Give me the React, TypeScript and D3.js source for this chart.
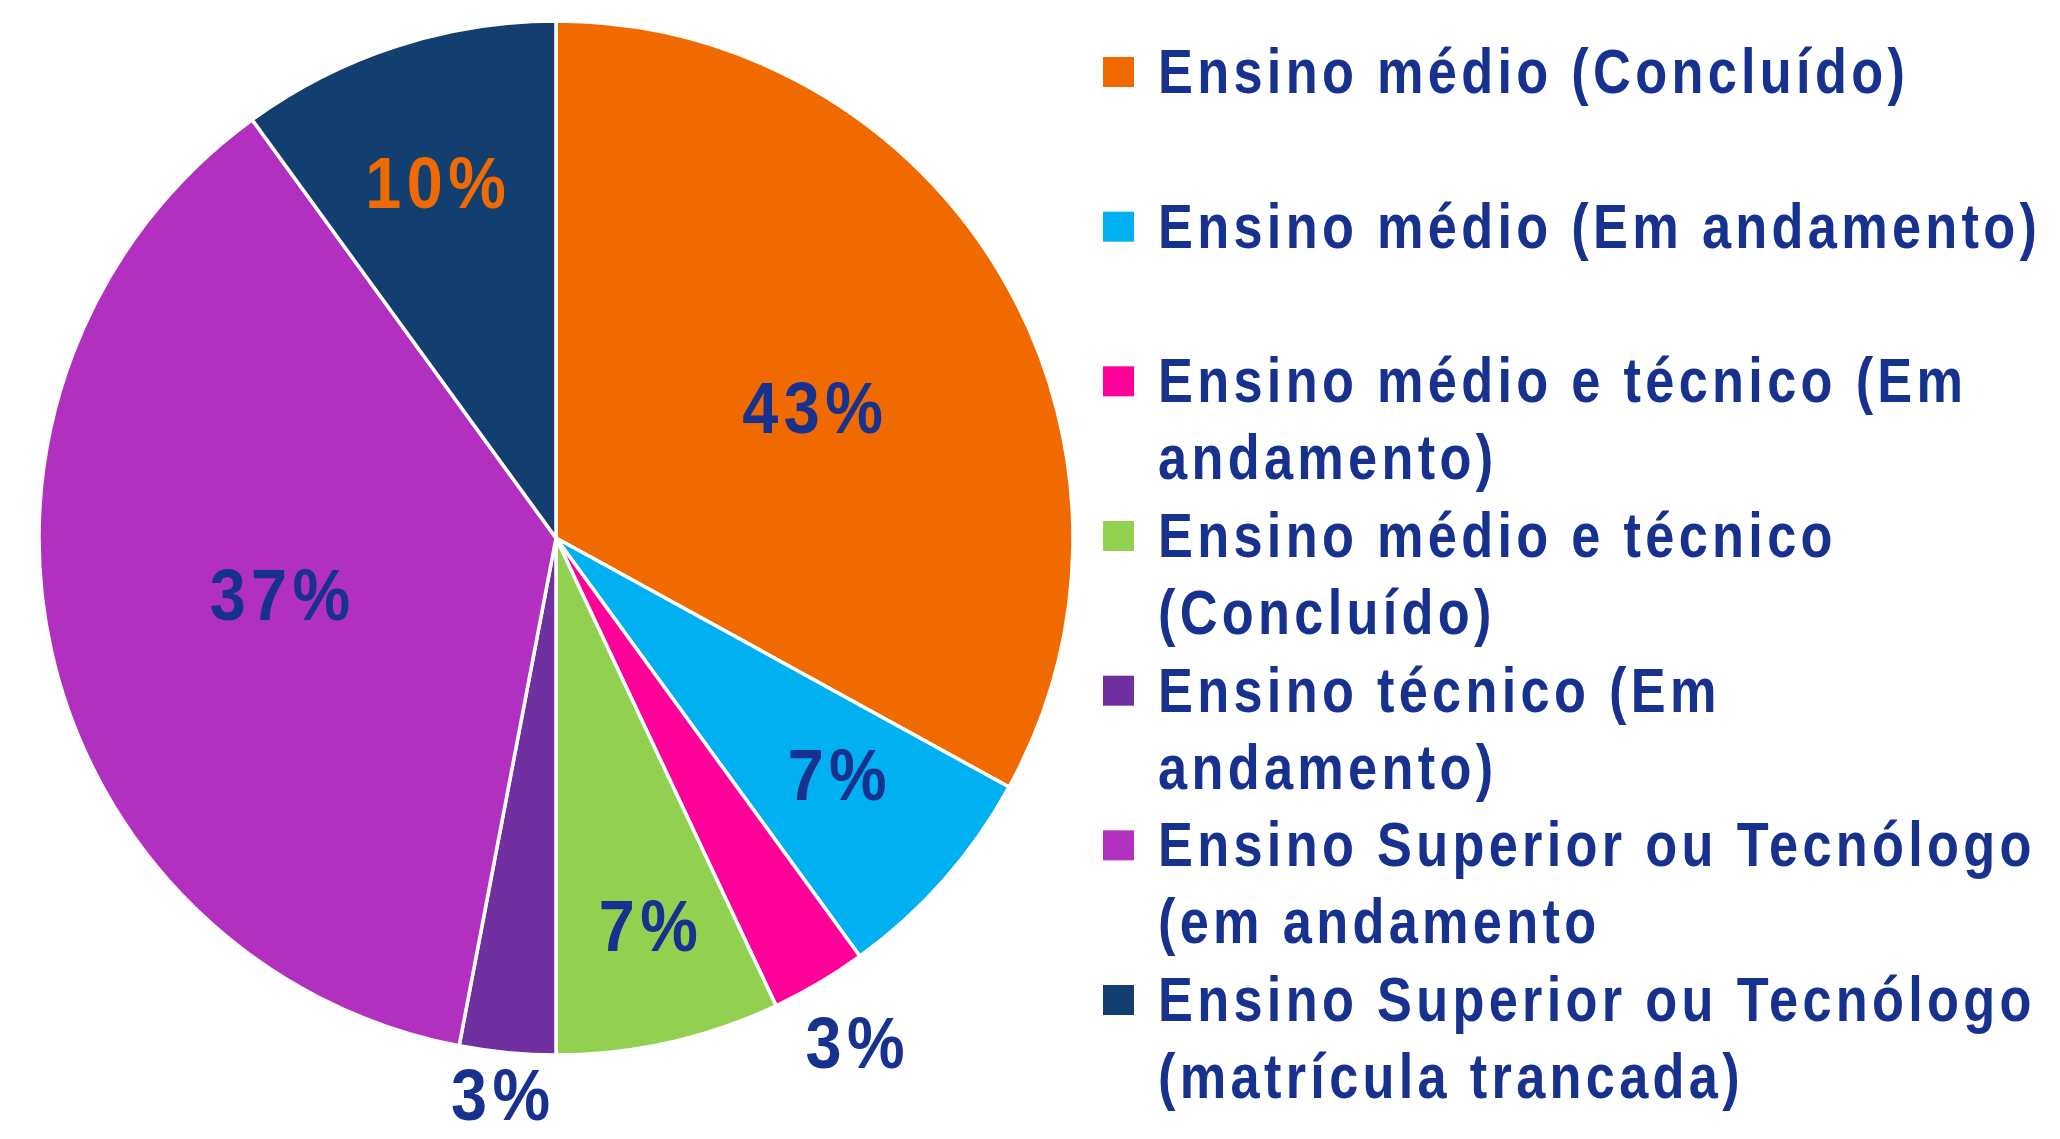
import React, { useEffect } from "react";
import * as d3 from "d3";

const categories = [
  "Ensino médio (Concluído)",
  "Ensino médio (Em andamento)",
  "Ensino médio e técnico (Em andamento)",
  "Ensino médio e técnico (Concluído)",
  "Ensino técnico (Em andamento)",
  "Ensino Superior ou Tecnólogo (em andamento",
  "Ensino Superior ou Tecnólogo (matrícula trancada)",
];
const values = [33, 7, 3, 7, 3, 37, 10];
const valueLabels = ["43%", "7%", "3%", "7%", "3%", "37%", "10%"];
const colors = ["#F06A00", "#00B0F0", "#FF0099", "#92D050", "#7030A0", "#B130BF", "#123F6F"];

// layout only
const W = 2060;
const H = 1139;
const CX = 556;
const CY = 538;
const R = 517;
const labelAngleDeg = [63, 130, 149.3, 166.6, 185.7, 258.5, 341.3];
const labelRadiusFactor = [0.557, 0.71, 1.133, 0.77, 1.08, 0.545, 0.727];
const labelColors = ["#17318F", "#17318F", "#17318F", "#17318F", "#17318F", "#17318F", "#F06A00"];
const wrapAfterWords = [0, 0, 5, 4, 3, 4, 4];
const TEXT = "#17318F";
const FONT = "'Liberation Sans', Arial, sans-serif";
const SX = 0.83;
const LEG_LS = 5.2;
const SX_LAB = 0.9;
const LAB_LS = 6;

export default function App() {
  useEffect(() => {
    document.body.style.margin = "0";
  }, []);

  const pie = d3.pie<number>().sort(null).value((d) => d);
  const arcs = pie(values);
  const arc = d3.arc<d3.PieArcDatum<number>>().innerRadius(0).outerRadius(R);

  const legendY = d3.scaleLinear().domain([0, 1]).range([72, 72 + 154.67]);

  return (
    <div style={{ position: "absolute", left: 0, top: 0 }}>
      <svg width={W} height={H} style={{ display: "block", background: "#fff" }}>
        <g transform={`translate(${CX},${CY})`}>
          {arcs.map((a, i) => (
            <path key={i} d={arc(a) || ""} fill={colors[i]} stroke="#fff" strokeWidth={3.5} strokeLinejoin="round" />
          ))}
          {arcs.map((a, i) => {
            const ang = (labelAngleDeg[i] * Math.PI) / 180;
            const r = R * labelRadiusFactor[i];
            const x = Math.sin(ang) * r;
            const y = -Math.cos(ang) * r;
            return (
              <g key={"l" + i} transform={`translate(${x},${y + 26}) scale(${SX_LAB},1)`}>
                <text
                  x={LAB_LS / 2}
                  y={0}
                  textAnchor="middle"
                  fontFamily={FONT}
                  fontWeight="bold"
                  fontSize={72}
                  letterSpacing={LAB_LS}
                  fill={labelColors[i]}
                >
                  {valueLabels[i]}
                </text>
              </g>
            );
          })}
        </g>
        <g>
          {categories.map((c, i) => {
            const cy = legendY(i);
            const words = c.split(" ");
            const n = wrapAfterWords[i];
            const lines = n > 0 ? [words.slice(0, n).join(" "), words.slice(n).join(" ")] : [c];
            return (
              <g key={"g" + i}>
                <rect x={1103} y={cy - 15} width={31} height={30} fill={colors[i]} />
                {lines.map((ln, j) => (
                  <g key={j} transform={`translate(1158,${cy + 21 + j * 77}) scale(${SX},1)`}>
                    <text
                      x={0}
                      y={0}
                      fontFamily={FONT}
                      fontWeight="bold"
                      fontSize={63}
                      letterSpacing={LEG_LS}
                      fill={TEXT}
                    >
                      {ln}
                    </text>
                  </g>
                ))}
              </g>
            );
          })}
        </g>
      </svg>
    </div>
  );
}
